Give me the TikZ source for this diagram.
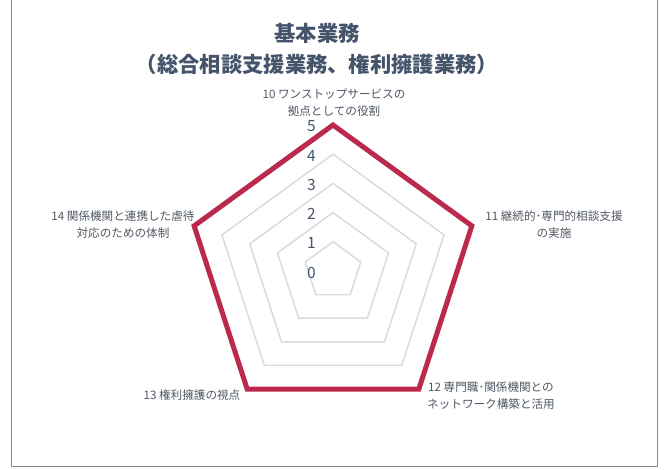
\documentclass[tikz,border=0pt]{standalone}
\usepackage{fontspec}
\setmainfont{Noto Sans CJK JP}
\definecolor{titlec}{RGB}{68,84,106}
\definecolor{labc}{RGB}{80,88,100}
\definecolor{gridc}{RGB}{214,219,228}
\definecolor{redc}{RGB}{187,41,76}
\definecolor{framec}{RGB}{137,137,137}
\tikzset{
  gridline/.style={draw=gridc, line width=1.5pt, line join=round},
  valueline/.style={draw=redc, line width=5pt, line join=miter},
  axisnum/.style={anchor=east, text=titlec, inner sep=0pt, font=\fontsize{15.5}{18}\selectfont},
  catlabel/.style={align=center, text=labc, inner sep=0pt, font=\fontsize{11.6}{16.5}\selectfont},
  titletext/.style={align=center, text=titlec, inner sep=0pt, font=\fontsize{21.3}{31}\selectfont\bfseries},
  framebox/.style={draw=framec, line width=1.5pt}
}
\begin{document}
\begin{tikzpicture}[x=1pt,y=-1pt]
\useasboundingbox[fill=white] (0,0) rectangle (669,470);
\draw[framebox] (11.7,-5) -- (11.7,466.7) -- (657.3,466.7) -- (657.3,-5);
\node[titletext] (title) at (317,49) {基本業務\\（総合相談支援業務、権利擁護業務）};
\begin{scope}[shift={(333,271)}, y=1pt]
  \foreach \k in {1,2,3,4} {
    \draw[gridline] (90:\k*29.2) -- (18:\k*29.2) -- (-54:\k*29.2) -- (-126:\k*29.2) -- (162:\k*29.2) -- cycle;
  }
  \coordinate (v10) at (90:146);
  \coordinate (v11) at (18:146);
  \coordinate (v12) at (-54:146);
  \coordinate (v13) at (-126:146);
  \coordinate (v14) at (162:146);
  \draw[valueline] (v10) -- (v11) -- (v12) -- (v13) -- (v14) -- cycle;
  \foreach \k in {0,...,5} {
    \node[axisnum] (n\k) at (-17,{-1.5+\k*29.2}) {\k};
  }
\end{scope}
\node[catlabel] (c10) at (334,102.5) {10 ワンストップサービスの\\拠点としての役割};
\node[catlabel] (c11) at (554,224.5) {11 継続的･専門的相談支援\\の実施};
\node[catlabel] (c12) at (491,395.5) {12 専門職･関係機関との\\ネットワーク構築と活用};
\node[catlabel] (c13) at (192,395) {13 権利擁護の視点};
\node[catlabel] (c14) at (123,224.5) {14 関係機関と連携した虐待\\対応のための体制};
\end{tikzpicture}
\end{document}
